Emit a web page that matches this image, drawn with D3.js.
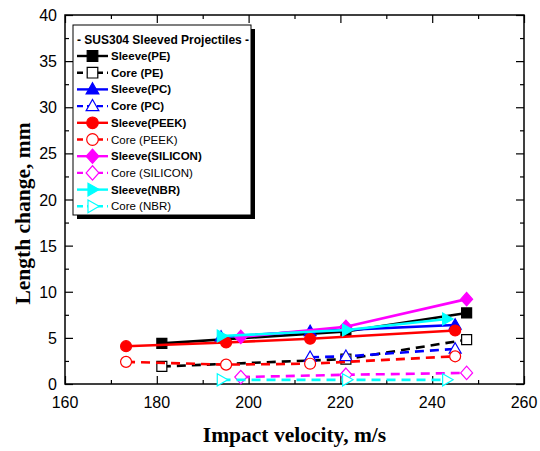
<!DOCTYPE html>
<html>
<head>
<meta charset="utf-8">
<script src="https://cdn.jsdelivr.net/npm/d3@7"></script>
<style>
  body { margin: 0; background: #fff; }
  svg { display: block; }
</style>
</head>
<body>
<div id="chart"></div>
<script>
// values
const xTicks = [160, 180, 200, 220, 240, 260];
const yTicks = [0, 5, 10, 15, 20, 25, 30, 35, 40];

const sleevePE_v = [181.1, 221.2, 247.5];
const sleevePE_l = [4.4, 5.7, 7.7];
const corePE_v = [181.1, 221.2, 247.5];
const corePE_l = [1.9, 2.7, 4.8];
const sleevePC_v = [194.0, 213.4, 245.0];
const sleevePC_l = [5.1, 5.7, 6.4];
const corePC_v = [213.4, 221.2, 245.0];
const corePC_l = [2.9, 3.0, 3.8];
const sleevePEEK_v = [173.3, 195.1, 213.4, 245.0];
const sleevePEEK_l = [4.1, 4.5, 4.9, 5.8];
const corePEEK_v = [173.3, 195.1, 213.4, 245.0];
const corePEEK_l = [2.4, 2.1, 2.2, 3.0];
const sleeveSIL_v = [198.3, 221.2, 247.5];
const sleeveSIL_l = [5.1, 6.2, 9.2];
const coreSIL_v = [198.3, 221.2, 247.5];
const coreSIL_l = [0.75, 1.0, 1.2];
const sleeveNBR_v = [194.1, 221.4, 243.2];
const sleeveNBR_l = [5.2, 5.85, 7.05];
const coreNBR_v = [194.1, 221.4, 243.2];
const coreNBR_l = [0.45, 0.45, 0.45];

const legendTitle = "- SUS304 Sleeved Projectiles -";

const series = [
  { name: "Sleeve(PE)", v: sleevePE_v, l: sleevePE_l, color: "#000", shape: "square", fill: true, dash: null, bold: true },
  { name: "Core (PE)", v: corePE_v, l: corePE_l, color: "#000", shape: "square", fill: false, dash: "9,6", bold: true },
  { name: "Sleeve(PC)", v: sleevePC_v, l: sleevePC_l, color: "#0000ff", shape: "tri", fill: true, dash: null, bold: true },
  { name: "Core (PC)", v: corePC_v, l: corePC_l, color: "#0000ff", shape: "tri", fill: false, dash: "9,6", bold: true },
  { name: "Sleeve(PEEK)", v: sleevePEEK_v, l: sleevePEEK_l, color: "#ff0000", shape: "circle", fill: true, dash: null, bold: true },
  { name: "Core (PEEK)", v: corePEEK_v, l: corePEEK_l, color: "#ff0000", shape: "circle", fill: false, dash: "9,6", bold: false },
  { name: "Sleeve(SILICON)", v: sleeveSIL_v, l: sleeveSIL_l, color: "#ff00ff", shape: "diamond", fill: true, dash: null, bold: true },
  { name: "Core (SILICON)", v: coreSIL_v, l: coreSIL_l, color: "#ff00ff", shape: "diamond", fill: false, dash: "9,6", bold: false },
  { name: "Sleeve(NBR)", v: sleeveNBR_v, l: sleeveNBR_l, color: "#00ffff", shape: "right", fill: true, dash: null, bold: true },
  { name: "Core (NBR)", v: coreNBR_v, l: coreNBR_l, color: "#00ffff", shape: "right", fill: false, dash: "9,6", bold: false }
];

const W = 540, H = 451;
const margin = { top: 15, left: 65, right: 16, bottom: 67 };
const width = W - margin.left - margin.right;
const height = H - margin.top - margin.bottom;

const svg = d3.select("#chart")
  .append("svg")
  .attr("width", W)
  .attr("height", H);

const x = d3.scaleLinear().domain([160, 260]).range([0, width]);
const y = d3.scaleLinear().domain([0, 40]).range([height, 0]);

const g = svg.append("g")
  .attr("transform", `translate(${margin.left},${margin.top})`);

// axes on all four sides, ticks point inward
const minorX = d3.range(170, 260, 20);
const minorY = d3.range(2.5, 40, 5);

function tickAxis(axisFn, scale, major, minor, tx) {
  const a = g.append("g").attr("transform", tx);
  a.call(axisFn(scale).tickValues(major).tickSize(-8).tickFormat(""));
  a.append("g").call(axisFn(scale).tickValues(minor).tickSize(-4).tickFormat(""));
  a.selectAll(".domain").remove();
  a.selectAll("line").attr("stroke", "#000").attr("stroke-width", 1.2);
}
tickAxis(d3.axisBottom, x, xTicks, minorX, `translate(0,${height})`);
tickAxis(d3.axisTop, x, xTicks, minorX, "translate(0,0)");
tickAxis(d3.axisLeft, y, yTicks, minorY, "translate(0,0)");
tickAxis(d3.axisRight, y, yTicks, minorY, `translate(${width},0)`);

// tick labels
g.append("g").selectAll("text")
  .data(xTicks)
  .join("text")
  .attr("x", d => x(d))
  .attr("y", height + 24)
  .attr("text-anchor", "middle")
  .attr("font-family", "Liberation Sans, Arial, sans-serif")
  .attr("font-size", 16)
  .text(d => d);

g.append("g").selectAll("text")
  .data(yTicks)
  .join("text")
  .attr("x", -8)
  .attr("y", d => y(d) + 6)
  .attr("text-anchor", "end")
  .attr("font-family", "Liberation Sans, Arial, sans-serif")
  .attr("font-size", 16)
  .text(d => d);

// frame
g.append("rect")
  .attr("width", width)
  .attr("height", height)
  .attr("fill", "none")
  .attr("stroke", "#000")
  .attr("stroke-width", 1.5);

// axis titles
svg.append("text")
  .attr("x", margin.left + width / 2)
  .attr("y", 442)
  .attr("text-anchor", "middle")
  .attr("font-family", "Liberation Serif, Times New Roman, serif")
  .attr("font-weight", "bold")
  .attr("font-size", 21.5)
  .text("Impact velocity, m/s");

svg.append("text")
  .attr("transform", `translate(30,${margin.top + height / 2 + 14}) rotate(-90)`)
  .attr("text-anchor", "middle")
  .attr("font-family", "Liberation Serif, Times New Roman, serif")
  .attr("font-weight", "bold")
  .attr("font-size", 21.5)
  .text("Length change, mm");

// marker shapes
function symbolPath(shape, s) {
  if (shape === "square") return `M${-s},${-s}H${s}V${s}H${-s}Z`;
  if (shape === "circle") return d3.symbol(d3.symbolCircle, Math.PI * s * s * 1.2)();
  if (shape === "tri") return `M0,${-s * 1.25}L${s * 1.2},${s * 0.85}L${-s * 1.2},${s * 0.85}Z`;
  if (shape === "diamond") return `M0,${-s * 1.35}L${s * 1.2},0L0,${s * 1.35}L${-s * 1.2},0Z`;
  if (shape === "right") return `M${s * 1.25},0L${-s * 0.85},${s * 1.2}L${-s * 0.85},${-s * 1.2}Z`;
}

const line = d3.line().x(d => x(d[0])).y(d => y(d[1]));

// core (dashed) series first, sleeves on top
const drawOrder = series.filter(s => s.dash).concat(series.filter(s => !s.dash));

drawOrder.forEach(s => {
  const pts = s.v.map((v, i) => [v, s.l[i]]);
  const sg = g.append("g");
  sg.append("path")
    .datum(pts)
    .attr("d", line)
    .attr("fill", "none")
    .attr("stroke", s.color)
    .attr("stroke-width", 2.6)
    .attr("stroke-dasharray", s.dash);
  sg.selectAll("path.m")
    .data(pts)
    .join("path")
    .attr("class", "m")
    .attr("transform", d => `translate(${x(d[0])},${y(d[1])})`)
    .attr("d", symbolPath(s.shape, 5))
    .attr("fill", s.fill ? s.color : "#fff")
    .attr("stroke", s.color)
    .attr("stroke-width", 1.2);
});

// legend with drop shadow
const lg = svg.append("g").attr("transform", "translate(73,25)");
const lw = 178, lh = 190;
lg.append("rect")
  .attr("x", 4).attr("y", 4)
  .attr("width", lw).attr("height", lh)
  .attr("fill", "#000");
lg.append("rect")
  .attr("width", lw).attr("height", lh)
  .attr("fill", "#fff")
  .attr("stroke", "#000")
  .attr("stroke-width", 1);

lg.append("text")
  .attr("x", 4)
  .attr("y", 19)
  .attr("font-family", "Liberation Sans, Arial, sans-serif")
  .attr("font-weight", "bold")
  .attr("font-size", 12)
  .text(legendTitle);

series.forEach((s, i) => {
  const cy = 31 + i * 16.7;
  const row = lg.append("g");
  row.append("line")
    .attr("x1", 4).attr("x2", 35)
    .attr("y1", cy).attr("y2", cy)
    .attr("stroke", s.color)
    .attr("stroke-width", 2.4)
    .attr("stroke-dasharray", s.dash ? "6,4" : null);
  row.append("path")
    .attr("transform", `translate(19.5,${cy})`)
    .attr("d", symbolPath(s.shape, 5.3))
    .attr("fill", s.fill ? s.color : "#fff")
    .attr("stroke", s.color)
    .attr("stroke-width", 1.2);
  row.append("text")
    .attr("x", 38)
    .attr("y", cy + 4)
    .attr("font-family", "Liberation Sans, Arial, sans-serif")
    .attr("font-weight", s.bold ? "bold" : "normal")
    .attr("font-size", 11.5)
    .text(s.name);
});
</script>
</body>
</html>
